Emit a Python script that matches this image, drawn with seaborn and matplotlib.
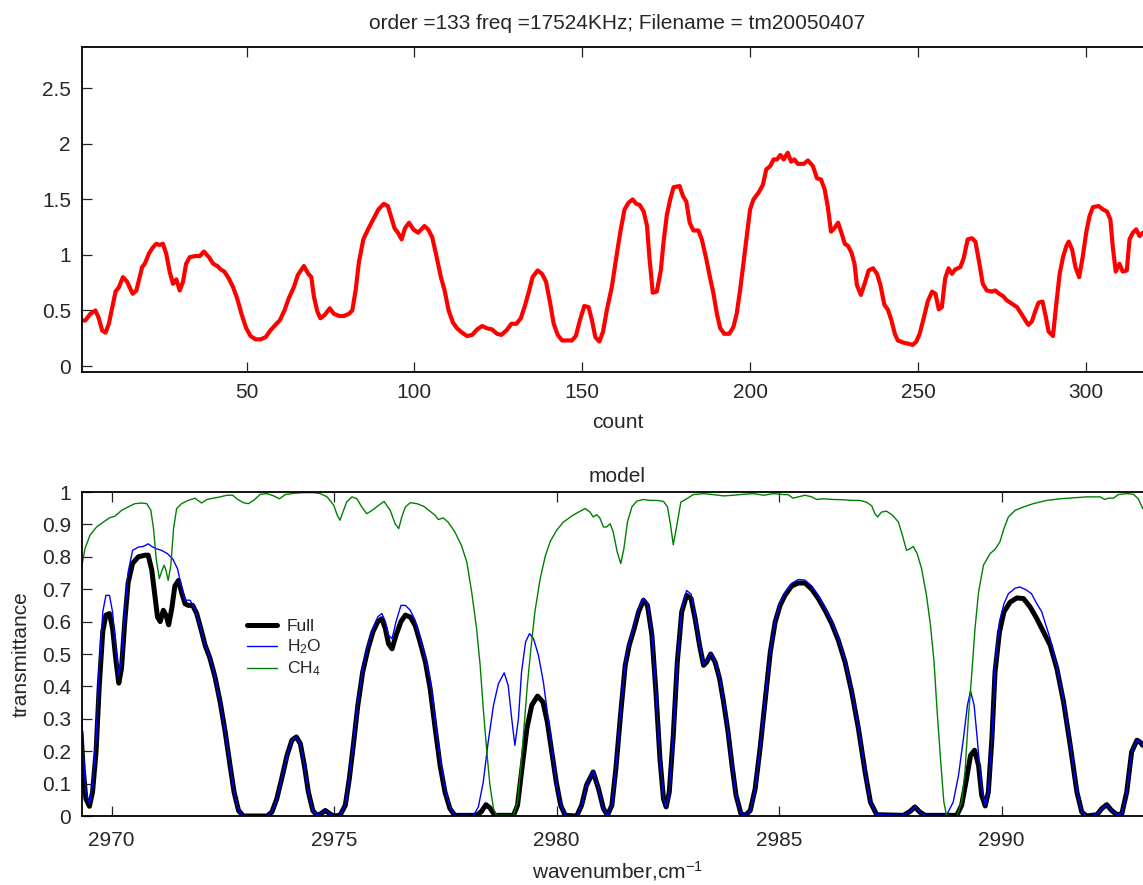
import matplotlib
matplotlib.use("Agg")
import matplotlib.pyplot as plt
import seaborn as sns
import pandas as pd
from matplotlib.ticker import FuncFormatter

# ---------------- data: upper panel (signal vs count) ----------------
count = [1.0, 2.0, 3.5, 5.0, 6.0, 7.0, 8.0, 9.0, 11.0, 12.0, 13.2, 14.4, 16.1, 17.2, 18.9, 19.7,
         20.9, 21.9, 23.1, 24.1, 25.1, 26.1, 27.1, 28.1, 29.1, 30.1, 31.1, 32.0, 33.1, 34.8, 36.1,
         37.3, 38.8, 40.1, 41.3, 42.3, 43.4, 44.7, 46.0, 47.2, 48.5, 49.9, 51.2, 52.7, 54.2, 55.7,
         57.1, 58.6, 59.9, 61.3, 62.6, 64.1, 65.3, 67.1, 68.4, 69.3, 70.1, 71.1, 72.0, 73.3, 74.8,
         76.0, 77.7, 79.0, 80.5, 81.5, 82.5, 83.5, 84.8, 86.2, 87.9, 89.3, 90.9, 92.1, 93.1, 94.1,
         95.1, 96.2, 97.2, 98.4, 99.7, 101.1, 103.0, 104.1, 105.3, 106.5, 107.9, 109.0, 110.2,
         111.5, 112.7, 114.2, 115.7, 117.2, 118.7, 120.2, 121.6, 123.1, 124.6, 125.9, 127.4, 128.9,
         130.4, 131.7, 133.0, 134.2, 135.2, 136.7, 138.0, 139.2, 140.3, 141.5, 142.7, 144.0, 145.4,
         146.9, 148.1, 149.2, 150.6, 151.9, 152.9, 153.9, 155.1, 156.2, 157.3, 158.8, 160.0, 161.3,
         162.6, 163.8, 165.0, 166.1, 167.1, 168.3, 169.3, 170.0, 171.0, 172.2, 173.4, 174.2, 175.2,
         176.2, 177.2, 179.0, 180.0, 181.0, 182.0, 183.1, 184.6, 185.6, 186.9, 188.1, 189.1, 190.1,
         191.1, 192.3, 193.8, 195.0, 196.0, 197.0, 198.0, 199.0, 200.0, 201.0, 202.5, 203.8, 204.8,
         206.0, 207.0, 208.0, 209.0, 210.0, 211.2, 212.2, 213.2, 214.2, 216.0, 217.2, 218.7, 219.9,
         221.1, 222.2, 223.1, 224.1, 225.1, 226.2, 227.2, 228.2, 229.2, 230.2, 231.1, 231.8, 233.0,
         234.1, 235.3, 236.6, 237.8, 238.8, 240.0, 241.0, 242.1, 243.1, 244.0, 245.7, 247.2, 248.4,
         249.5, 250.5, 251.7, 252.9, 254.2, 255.2, 256.2, 257.1, 258.1, 259.1, 260.1, 261.1, 262.6,
         263.6, 264.8, 266.1, 267.1, 268.3, 269.3, 270.5, 272.0, 273.0, 274.2, 275.3, 276.5, 278.0,
         279.5, 281.0, 282.0, 282.9, 283.9, 284.9, 285.9, 287.1, 288.1, 288.9, 290.2, 291.2, 292.2,
         293.2, 294.2, 294.9, 295.9, 296.9, 298.0, 299.0, 300.1, 301.1, 302.1, 303.8, 305.1, 306.3,
         307.3, 308.0, 308.9, 310.0, 311.0, 312.2, 313.0, 314.0, 315.0, 316.0, 317.0]
signal = [0.41, 0.41, 0.47, 0.50, 0.43, 0.32, 0.30, 0.38, 0.67, 0.71, 0.80, 0.76, 0.65, 0.68, 0.89, 0.92,
          1.01, 1.06, 1.10, 1.09, 1.10, 1.01, 0.85, 0.74, 0.78, 0.68, 0.76, 0.92, 0.98, 0.99, 0.99,
          1.03, 0.98, 0.92, 0.90, 0.87, 0.85, 0.79, 0.71, 0.61, 0.47, 0.34, 0.27, 0.24, 0.24, 0.26,
          0.32, 0.37, 0.41, 0.50, 0.61, 0.71, 0.82, 0.90, 0.83, 0.80, 0.62, 0.49, 0.43, 0.46, 0.52,
          0.47, 0.45, 0.45, 0.47, 0.50, 0.68, 0.94, 1.14, 1.23, 1.33, 1.41, 1.46, 1.44, 1.34, 1.24,
          1.20, 1.14, 1.24, 1.29, 1.23, 1.20, 1.26, 1.23, 1.16, 1.00, 0.80, 0.68, 0.50,
          0.39, 0.34, 0.30, 0.27, 0.28, 0.33, 0.36, 0.34, 0.33, 0.29, 0.28, 0.32, 0.38,
          0.38, 0.43, 0.55, 0.68, 0.80, 0.86, 0.83, 0.76, 0.59, 0.38, 0.28, 0.23, 0.23,
          0.23, 0.27, 0.40, 0.54, 0.53, 0.41, 0.26, 0.22, 0.31, 0.50, 0.71, 0.95, 1.20,
          1.41, 1.47, 1.50, 1.46, 1.45, 1.39, 1.26, 0.98, 0.66, 0.67, 0.86, 1.11, 1.36,
          1.50, 1.61, 1.62, 1.53, 1.48, 1.29, 1.22, 1.22, 1.14, 0.97, 0.79, 0.65, 0.47,
          0.34, 0.29, 0.29, 0.35, 0.47, 0.68, 0.92, 1.17, 1.41, 1.50, 1.56, 1.63, 1.77,
          1.80, 1.86, 1.86, 1.90, 1.86, 1.92, 1.84, 1.86, 1.82, 1.82, 1.85, 1.80, 1.69,
          1.68, 1.59, 1.44, 1.21, 1.24, 1.29, 1.20, 1.10, 1.08, 1.02, 0.92, 0.73, 0.64,
          0.74, 0.86, 0.88, 0.83, 0.73, 0.55, 0.51, 0.41, 0.29, 0.23, 0.21, 0.20, 0.19,
          0.22, 0.29, 0.43, 0.58, 0.67, 0.65, 0.51, 0.53, 0.79, 0.88, 0.83, 0.87, 0.89,
          0.97, 1.14, 1.15, 1.12, 0.92, 0.74, 0.68, 0.67, 0.68, 0.65, 0.63, 0.59, 0.56,
          0.53, 0.46, 0.41, 0.37, 0.40, 0.49, 0.57, 0.58, 0.44, 0.31, 0.27, 0.56, 0.83,
          0.98, 1.08, 1.12, 1.05, 0.89, 0.80, 0.97, 1.20, 1.35, 1.43, 1.44, 1.41, 1.39,
          1.32, 1.08, 0.85, 0.92, 0.85, 0.86, 1.14, 1.20, 1.23, 1.17, 1.20]

# ---------------- data: lower panel (model transmittance) ----------------
full_wn = [2969.31, 2969.36, 2969.42, 2969.50, 2969.57, 2969.65, 2969.72, 2969.80, 2969.87, 2969.95,
           2970.02, 2970.10, 2970.16, 2970.22, 2970.30, 2970.37, 2970.47, 2970.60, 2970.75, 2970.82,
           2970.90, 2970.97, 2971.03, 2971.09, 2971.16, 2971.22, 2971.28, 2971.35, 2971.42, 2971.50,
           2971.57, 2971.65, 2971.72, 2971.82, 2971.91, 2972.00, 2972.10, 2972.21, 2972.32, 2972.44,
           2972.55, 2972.66, 2972.75, 2972.85, 2972.96, 2973.49, 2973.60, 2973.71, 2973.82, 2973.94,
           2974.05, 2974.15, 2974.24, 2974.33, 2974.42, 2974.52, 2974.61, 2974.70, 2974.80, 2974.90,
           2974.99, 2975.13, 2975.25, 2975.34, 2975.43, 2975.53, 2975.64, 2975.76, 2975.87, 2975.98,
           2976.07, 2976.15, 2976.22, 2976.30, 2976.39, 2976.50, 2976.60, 2976.71, 2976.82, 2976.93,
           2977.05, 2977.16, 2977.27, 2977.38, 2977.49, 2977.60, 2977.71, 2978.20, 2978.31, 2978.41,
           2978.50, 2978.61, 2979.03, 2979.12, 2979.21, 2979.33, 2979.44, 2979.57, 2979.69, 2979.79,
           2979.89, 2979.99, 2980.09, 2980.19, 2980.45, 2980.56, 2980.67, 2980.82, 2980.94, 2981.05,
           2981.14, 2981.24, 2981.33, 2981.44, 2981.54, 2981.63, 2981.74, 2981.84, 2981.95, 2982.04,
           2982.14, 2982.23, 2982.32, 2982.40, 2982.46, 2982.53, 2982.62, 2982.71, 2982.81, 2982.92,
           2983.02, 2983.11, 2983.21, 2983.30, 2983.37, 2983.46, 2983.56, 2983.66, 2983.75, 2983.85,
           2983.94, 2984.03, 2984.14, 2984.24, 2984.35, 2984.46, 2984.57, 2984.69, 2984.80, 2984.91,
           2985.02, 2985.13, 2985.28, 2985.43, 2985.58, 2985.73, 2985.88, 2986.03, 2986.18, 2986.33,
           2986.48, 2986.63, 2986.78, 2986.93, 2987.05, 2987.19, 2987.79, 2987.94, 2988.05, 2988.16,
           2988.28, 2988.99, 2989.10, 2989.21, 2989.30, 2989.39, 2989.48, 2989.55, 2989.63, 2989.70,
           2989.78, 2989.85, 2989.95, 2990.05, 2990.19, 2990.34, 2990.49, 2990.64, 2990.79, 2990.94,
           2991.09, 2991.24, 2991.39, 2991.54, 2991.69, 2991.80, 2991.91, 2992.14, 2992.25, 2992.36,
           2992.47, 2992.59, 2992.70, 2992.81, 2992.92, 2993.04, 2993.11, 2993.17]
full_t = [0.26, 0.146, 0.053, 0.03, 0.074, 0.20, 0.40, 0.57, 0.62, 0.625,
          0.58, 0.475, 0.41, 0.455, 0.61, 0.72, 0.78, 0.80, 0.805, 0.805,
          0.76, 0.68, 0.614, 0.60, 0.635, 0.62, 0.59, 0.64, 0.71, 0.727,
          0.69, 0.655, 0.65, 0.65, 0.625, 0.58, 0.527, 0.486, 0.43, 0.35,
          0.26, 0.156, 0.074, 0.017, 0.0, 0.0, 0.012, 0.053, 0.115, 0.187,
          0.234, 0.244, 0.223, 0.156, 0.074, 0.017, 0.002, 0.007, 0.017, 0.007,
          0.0, 0.002, 0.033, 0.115, 0.218, 0.34, 0.444, 0.516, 0.568, 0.60,
          0.609, 0.578, 0.532, 0.516, 0.558, 0.60, 0.62, 0.614, 0.588, 0.537,
          0.475, 0.39, 0.27, 0.156, 0.074, 0.023, 0.002, 0.002, 0.014, 0.035,
          0.025, 0.002, 0.002, 0.033, 0.136, 0.27, 0.342, 0.37, 0.352, 0.29,
          0.198, 0.105, 0.033, 0.002, 0.0, 0.033, 0.095, 0.136, 0.084, 0.023,
          0.002, 0.033, 0.146, 0.32, 0.465, 0.527, 0.578, 0.63, 0.666, 0.65,
          0.558, 0.383, 0.177, 0.053, 0.028, 0.074, 0.249, 0.475, 0.63, 0.681,
          0.671, 0.609, 0.527, 0.465, 0.475, 0.50, 0.475, 0.424, 0.352, 0.26,
          0.156, 0.064, 0.007, 0.002, 0.017, 0.084, 0.208, 0.362, 0.506, 0.599,
          0.65, 0.681, 0.71, 0.719, 0.719, 0.70, 0.671, 0.635, 0.594, 0.542,
          0.475, 0.383, 0.27, 0.136, 0.043, 0.004, 0.002, 0.014, 0.028, 0.012,
          0.002, 0.002, 0.033, 0.115, 0.187, 0.203, 0.156, 0.064, 0.031, 0.074,
          0.239, 0.444, 0.568, 0.63, 0.66, 0.673, 0.671, 0.645, 0.609, 0.568,
          0.527, 0.455, 0.352, 0.218, 0.074, 0.012, 0.0, 0.004, 0.023, 0.035,
          0.017, 0.004, 0.007, 0.074, 0.198, 0.234, 0.228, 0.218]

h2o_wn = [2969.31, 2969.36, 2969.42, 2969.50, 2969.57, 2969.65, 2969.72, 2969.80, 2969.87, 2969.95,
          2970.02, 2970.10, 2970.16, 2970.22, 2970.30, 2970.37, 2970.47, 2970.60, 2970.71, 2970.82,
          2970.90, 2971.00, 2971.12, 2971.25, 2971.37, 2971.48, 2971.56, 2971.65, 2971.76, 2971.87,
          2972.00, 2972.10, 2972.21, 2972.32, 2972.44, 2972.55, 2972.66, 2972.75, 2972.85, 2972.96,
          2973.49, 2973.60, 2973.71, 2973.82, 2973.94, 2974.05, 2974.15, 2974.24, 2974.33, 2974.42,
          2974.52, 2974.61, 2974.70, 2974.80, 2974.90, 2974.99, 2975.13, 2975.25, 2975.34, 2975.43,
          2975.53, 2975.64, 2975.76, 2975.87, 2975.98, 2976.07, 2976.15, 2976.22, 2976.30, 2976.39,
          2976.50, 2976.60, 2976.71, 2976.82, 2976.93, 2977.05, 2977.16, 2977.26, 2977.38, 2977.49,
          2977.60, 2977.71, 2978.13, 2978.24, 2978.35, 2978.46, 2978.58, 2978.69, 2978.82, 2978.91,
          2978.99, 2979.06, 2979.14, 2979.21, 2979.30, 2979.39, 2979.48, 2979.59, 2979.70, 2979.81,
          2979.91, 2980.00, 2980.10, 2980.19, 2980.45, 2980.56, 2980.67, 2980.82, 2980.94, 2981.05,
          2981.14, 2981.24, 2981.33, 2981.44, 2981.54, 2981.63, 2981.74, 2981.84, 2981.95, 2982.04,
          2982.14, 2982.23, 2982.32, 2982.40, 2982.46, 2982.53, 2982.62, 2982.71, 2982.81, 2982.92,
          2983.02, 2983.11, 2983.21, 2983.30, 2983.37, 2983.46, 2983.56, 2983.66, 2983.75, 2983.85,
          2983.94, 2984.03, 2984.14, 2984.24, 2984.35, 2984.46, 2984.57, 2984.69, 2984.80, 2984.91,
          2985.02, 2985.13, 2985.28, 2985.43, 2985.58, 2985.73, 2985.88, 2986.03, 2986.18, 2986.33,
          2986.48, 2986.63, 2986.78, 2986.93, 2987.05, 2987.19, 2987.79, 2987.94, 2988.05, 2988.16,
          2988.28, 2988.76, 2988.91, 2989.03, 2989.14, 2989.23, 2989.30, 2989.38, 2989.45, 2989.54,
          2989.63, 2989.70, 2989.78, 2989.85, 2989.95, 2990.05, 2990.15, 2990.30, 2990.41, 2990.55,
          2990.67, 2990.79, 2990.90, 2991.09, 2991.24, 2991.39, 2991.54, 2991.69, 2991.80, 2991.91,
          2992.14, 2992.25, 2992.36, 2992.47, 2992.59, 2992.70, 2992.81, 2992.92, 2993.04, 2993.11,
          2993.17]
h2o_t = [0.36, 0.198, 0.074, 0.038, 0.095, 0.24, 0.455, 0.63, 0.681, 0.681,
         0.63, 0.506, 0.434, 0.486, 0.64, 0.753, 0.82, 0.83, 0.832, 0.84,
         0.832, 0.825, 0.82, 0.81, 0.794, 0.763, 0.712, 0.666, 0.666, 0.64,
         0.58, 0.527, 0.486, 0.43, 0.35, 0.26, 0.156, 0.074, 0.017, 0.0,
         0.0, 0.012, 0.053, 0.115, 0.187, 0.234, 0.244, 0.223, 0.156, 0.074,
         0.017, 0.002, 0.007, 0.017, 0.007, 0.0, 0.002, 0.035, 0.12, 0.225,
         0.35, 0.455, 0.527, 0.578, 0.615, 0.625, 0.60, 0.558, 0.547, 0.60,
         0.65, 0.65, 0.635, 0.604, 0.547, 0.486, 0.42, 0.30, 0.177, 0.084,
         0.028, 0.002, 0.002, 0.028, 0.105, 0.228, 0.342, 0.408, 0.442, 0.403,
         0.30, 0.218, 0.30, 0.444, 0.537, 0.563, 0.547, 0.496, 0.414, 0.30,
         0.187, 0.095, 0.031, 0.002, 0.0, 0.033, 0.095, 0.14, 0.084, 0.023,
         0.002, 0.033, 0.15, 0.33, 0.475, 0.537, 0.588, 0.64, 0.672, 0.655,
         0.56, 0.383, 0.177, 0.053, 0.028, 0.074, 0.25, 0.48, 0.64, 0.696,
         0.685, 0.615, 0.53, 0.468, 0.478, 0.503, 0.478, 0.427, 0.355, 0.263,
         0.158, 0.064, 0.007, 0.002, 0.017, 0.084, 0.21, 0.366, 0.51, 0.603,
         0.66, 0.69, 0.718, 0.73, 0.728, 0.71, 0.68, 0.642, 0.60, 0.548,
         0.48, 0.386, 0.272, 0.136, 0.043, 0.004, 0.002, 0.014, 0.028, 0.012,
         0.002, 0.002, 0.043, 0.126, 0.239, 0.342, 0.385, 0.342, 0.239, 0.095,
         0.033, 0.074, 0.239, 0.46, 0.60, 0.655, 0.686, 0.703, 0.707, 0.698,
         0.686, 0.655, 0.63, 0.547, 0.46, 0.355, 0.22, 0.074, 0.012, 0.0,
         0.004, 0.023, 0.035, 0.017, 0.004, 0.007, 0.074, 0.198, 0.234, 0.228,
         0.218]

ch4_wn = [2969.31, 2969.40, 2969.51, 2969.66, 2969.81, 2969.96, 2970.07, 2970.22, 2970.37, 2970.52,
          2970.67, 2970.79, 2970.88, 2970.94, 2971.00, 2971.07, 2971.13, 2971.18, 2971.22, 2971.27,
          2971.33, 2971.39, 2971.46, 2971.57, 2971.72, 2971.87, 2972.02, 2972.14, 2972.29, 2972.44,
          2972.59, 2972.72, 2972.81, 2972.96, 2973.07, 2973.19, 2973.34, 2973.49, 2973.64, 2973.77,
          2973.90, 2974.09, 2974.31, 2974.54, 2974.69, 2974.84, 2974.99, 2975.07, 2975.13, 2975.21,
          2975.28, 2975.40, 2975.51, 2975.62, 2975.73, 2975.85, 2976.00, 2976.12, 2976.26, 2976.37,
          2976.45, 2976.52, 2976.60, 2976.71, 2976.86, 2977.01, 2977.16, 2977.27, 2977.34, 2977.45,
          2977.56, 2977.71, 2977.86, 2977.98, 2978.09, 2978.20, 2978.28, 2978.35, 2978.43, 2978.50,
          2978.58, 2978.65, 2979.03, 2979.12, 2979.19, 2979.27, 2979.34, 2979.42, 2979.51, 2979.63,
          2979.74, 2979.85, 2980.00, 2980.15, 2980.34, 2980.49, 2980.64, 2980.75, 2980.82, 2980.90,
          2980.97, 2981.05, 2981.12, 2981.20, 2981.27, 2981.36, 2981.44, 2981.51, 2981.59, 2981.69,
          2981.80, 2981.95, 2982.10, 2982.25, 2982.40, 2982.49, 2982.56, 2982.62, 2982.70, 2982.79,
          2982.92, 2983.07, 2983.30, 2983.52, 2983.75, 2983.97, 2984.20, 2984.42, 2984.65, 2984.87,
          2985.10, 2985.20, 2985.31, 2985.43, 2985.58, 2985.73, 2985.84, 2985.99, 2986.21, 2986.44,
          2986.66, 2986.81, 2986.96, 2987.08, 2987.15, 2987.21, 2987.30, 2987.41, 2987.55, 2987.68,
          2987.77, 2987.86, 2987.94, 2988.01, 2988.10, 2988.20, 2988.31, 2988.40, 2988.48, 2988.55,
          2988.63, 2988.70, 2988.76, 2988.99, 2989.10, 2989.18, 2989.25, 2989.33, 2989.40, 2989.48,
          2989.59, 2989.74, 2989.85, 2989.96, 2990.05, 2990.15, 2990.30, 2990.49, 2990.71, 2991.01,
          2991.31, 2991.61, 2991.91, 2992.21, 2992.32, 2992.40, 2992.51, 2992.62, 2992.81, 2992.96,
          2993.07, 2993.17]
ch4_t = [0.758, 0.825, 0.866, 0.892, 0.907, 0.921, 0.925, 0.943, 0.954, 0.964,
         0.966, 0.964, 0.943, 0.887, 0.794, 0.733, 0.758, 0.774, 0.758, 0.727,
         0.774, 0.887, 0.949, 0.964, 0.974, 0.981, 0.966, 0.977, 0.981, 0.985,
         0.99, 0.99, 0.979, 0.967, 0.964, 0.974, 0.993, 0.995, 0.988, 0.979,
         0.992, 0.996, 0.998, 0.998, 0.995, 0.985, 0.959, 0.928, 0.913, 0.943,
         0.969, 0.985, 0.979, 0.954, 0.933, 0.943, 0.959, 0.971, 0.943, 0.902,
         0.887, 0.923, 0.954, 0.967, 0.964, 0.956, 0.940, 0.928, 0.915, 0.920,
         0.907, 0.877, 0.835, 0.784, 0.691, 0.578, 0.465, 0.331, 0.198, 0.095,
         0.023, 0.002, 0.002, 0.043, 0.146, 0.28, 0.403, 0.516, 0.63, 0.733,
         0.80, 0.846, 0.882, 0.907, 0.926, 0.938, 0.949, 0.938, 0.923, 0.93,
         0.92, 0.892, 0.892, 0.902, 0.877, 0.815, 0.779, 0.825, 0.907, 0.954,
         0.972, 0.977, 0.974, 0.974, 0.971, 0.954, 0.897, 0.837, 0.897, 0.969,
         0.979, 0.992, 0.995, 0.992, 0.988, 0.99, 0.993, 0.995, 0.99, 0.995,
         0.992, 0.992, 0.981, 0.985, 0.99, 0.985, 0.977, 0.979, 0.977, 0.976,
         0.974, 0.974, 0.969, 0.957, 0.933, 0.923, 0.938, 0.941, 0.928, 0.907,
         0.866, 0.82, 0.825, 0.832, 0.81, 0.763, 0.681, 0.588, 0.475, 0.321,
         0.167, 0.043, 0.002, 0.0, 0.043, 0.146, 0.30, 0.444, 0.578, 0.691,
         0.774, 0.81, 0.823, 0.846, 0.887, 0.923, 0.943, 0.954, 0.964, 0.974,
         0.979, 0.982, 0.985, 0.985, 0.977, 0.981, 0.981, 0.992, 0.995, 0.993,
         0.979, 0.949]

title_top = "order =133 freq =17524KHz; Filename = tm20050407"
top_xticks = [50, 100, 150, 200, 250, 300]
top_yticks = [0, 0.5, 1, 1.5, 2, 2.5]
bot_xticks = [2970, 2975, 2980, 2985, 2990]
bot_yticks = [0, 0.1, 0.2, 0.3, 0.4, 0.5, 0.6, 0.7, 0.8, 0.9, 1]

# ---------------- style ----------------
sns.set_theme(style="white")
plt.rcParams["font.family"] = ["Liberation Sans", "DejaVu Sans"]
plt.rcParams["mathtext.fontset"] = "custom"
plt.rcParams["mathtext.rm"] = "Liberation Sans"
plt.rcParams["mathtext.it"] = "Liberation Sans:italic"
plt.rcParams["mathtext.bf"] = "Liberation Sans:bold"
plt.rcParams["axes.unicode_minus"] = False

W, H = 1143, 885
fig = plt.figure(figsize=(W / 100, H / 100), dpi=100)
L, R = 82, 1153
ax1 = fig.add_axes([L / W, 1 - 372 / H, (R - L) / W, (372 - 47) / H])
ax2 = fig.add_axes([L / W, 1 - 816 / H, (R - L) / W, (816 - 492) / H])

fmt = FuncFormatter(lambda v, p: f"{v:g}")

# upper panel
df_top = pd.DataFrame({"count": count, "signal": signal})
sns.lineplot(data=df_top, x="count", y="signal", ax=ax1, color="#ff0000",
             linewidth=3.0, sort=False, estimator=None)
ax1.set_xlim(1, 320)
ax1.set_ylim(-0.054, 2.872)
ax1.set_xticks(top_xticks)
ax1.set_yticks(top_yticks)
ax1.set_xlabel("count", fontsize=15, labelpad=8)
ax1.set_ylabel("")
ax1.set_title(title_top, fontsize=15, pad=13)

# lower panel
df_full = pd.DataFrame({"wn": full_wn, "t": full_t})
df_h2o = pd.DataFrame({"wn": h2o_wn, "t": h2o_t})
df_ch4 = pd.DataFrame({"wn": ch4_wn, "t": ch4_t})
sns.lineplot(data=df_full, x="wn", y="t", ax=ax2, color="black", linewidth=3.6,
             sort=False, estimator=None, label="Full")
sns.lineplot(data=df_h2o, x="wn", y="t", ax=ax2, color="#0000ff", linewidth=1.0,
             sort=False, estimator=None, label="H$_2$O")
sns.lineplot(data=df_ch4, x="wn", y="t", ax=ax2, color="#008000", linewidth=1.0,
             sort=False, estimator=None, label="CH$_4$")
ax2.set_xlim(2969.333, 2993.4)
ax2.set_ylim(0, 1)
ax2.set_xticks(bot_xticks)
ax2.set_yticks(bot_yticks)
ax2.set_xlabel("wavenumber,cm$^{-1}$", fontsize=15, labelpad=6)
ax2.set_ylabel("transmittance", fontsize=15, labelpad=8)
ax2.set_title("model", fontsize=15, pad=7)
ax2.legend(loc="upper left", bbox_to_anchor=(247 / W, 1 - 619 / H),
           bbox_transform=fig.transFigure, frameon=False, fontsize=12.5,
           handlelength=1.7, handletextpad=0.6, labelspacing=0.2,
           borderpad=0, borderaxespad=0)

for ax in (ax1, ax2):
    ax.xaxis.set_major_formatter(fmt)
    ax.yaxis.set_major_formatter(fmt)
    ax.tick_params(direction="in", length=7, width=0.9, color="#222222",
                   labelsize=15, bottom=True, left=True, top=True, right=True,
                   pad=8)
    for s in ax.spines.values():
        s.set_color("black")
        s.set_linewidth(1.3)
    ax.grid(False)
ax2.tick_params(axis="x", pad=11)

fig.savefig("out.png", dpi=100)
